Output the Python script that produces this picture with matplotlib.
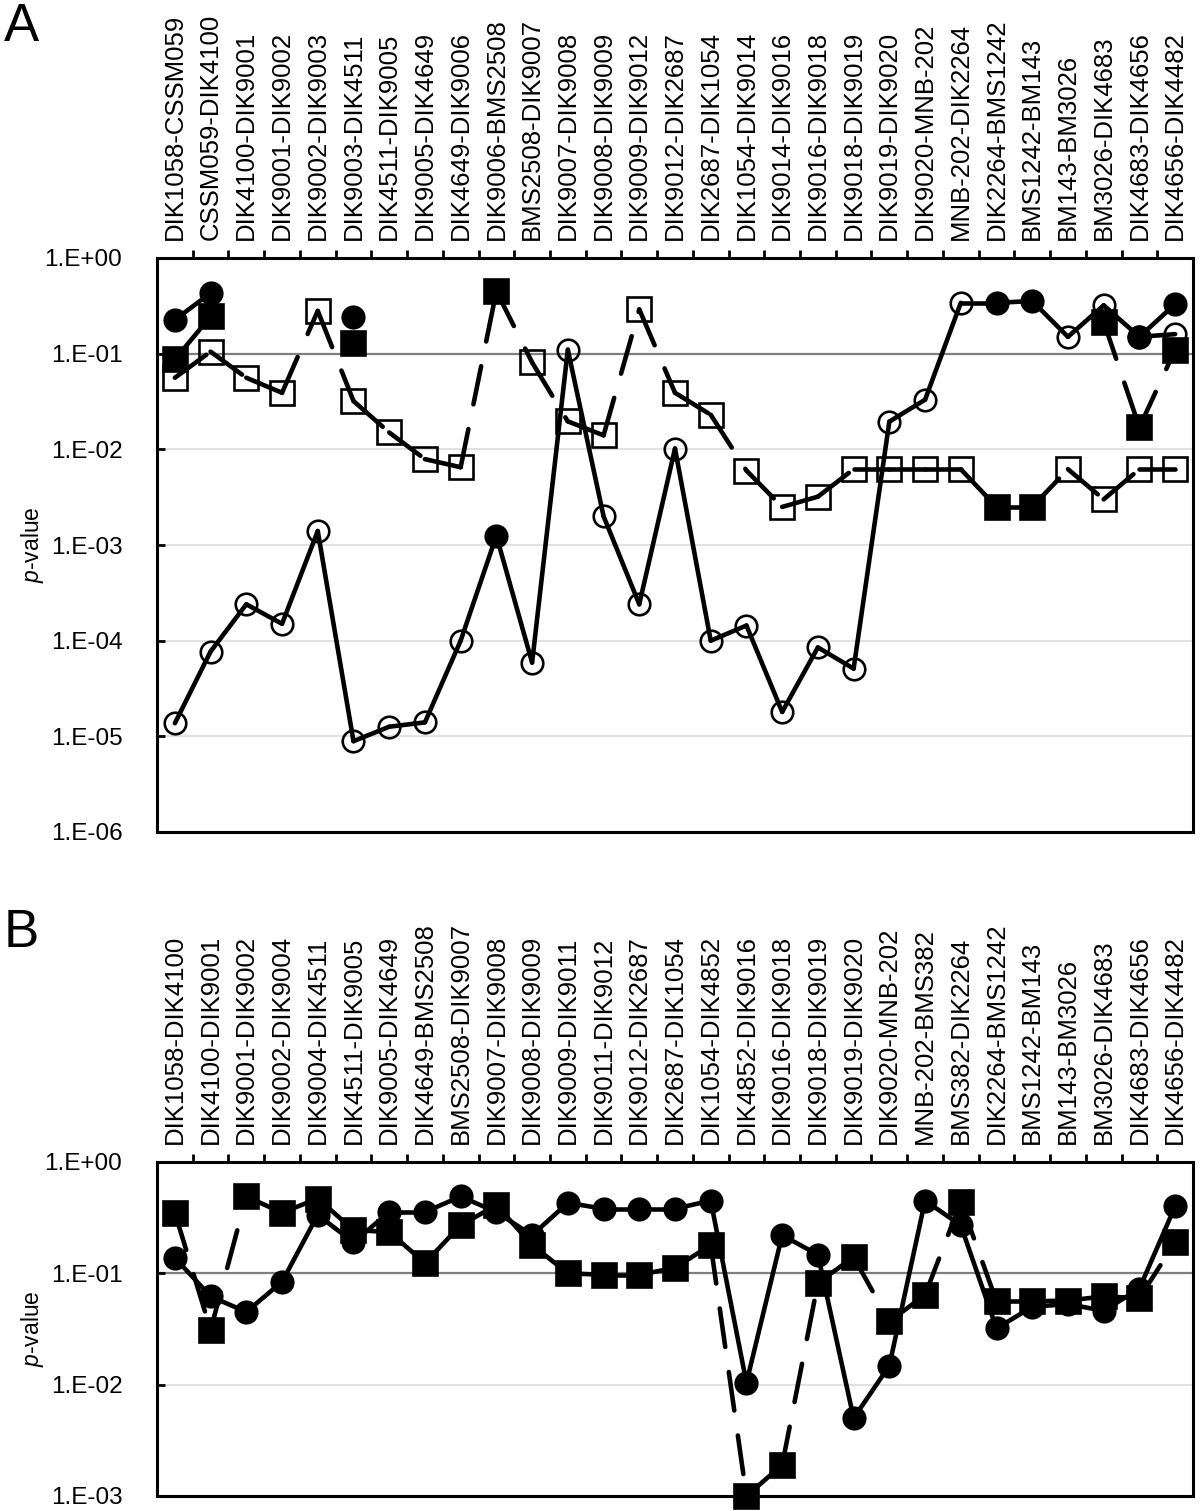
import numpy as np
import matplotlib
matplotlib.use('Agg')
import matplotlib.pyplot as plt
from matplotlib.ticker import FixedLocator, FuncFormatter, NullLocator

plt.rcParams['font.family'] = ['Liberation Sans', 'DejaVu Sans']
plt.rcParams['mathtext.fontset'] = 'custom'
plt.rcParams['mathtext.it'] = 'Liberation Sans:italic'
plt.rcParams['mathtext.rm'] = 'Liberation Sans'

nan = np.nan

# ---- panel A ----
labels_a = ['DIK1058-CSSM059', 'CSSM059-DIK4100', 'DIK4100-DIK9001', 'DIK9001-DIK9002',
            'DIK9002-DIK9003', 'DIK9003-DIK4511', 'DIK4511-DIK9005', 'DIK9005-DIK4649',
            'DIK4649-DIK9006', 'DIK9006-BMS2508', 'BMS2508-DIK9007', 'DIK9007-DIK9008',
            'DIK9008-DIK9009', 'DIK9009-DIK9012', 'DIK9012-DIK2687', 'DIK2687-DIK1054',
            'DIK1054-DIK9014', 'DIK9014-DIK9016', 'DIK9016-DIK9018', 'DIK9018-DIK9019',
            'DIK9019-DIK9020', 'DIK9020-MNB-202', 'MNB-202-DIK2264', 'DIK2264-BMS1242',
            'BMS1242-BM143', 'BM143-BM3026', 'BM3026-DIK4683', 'DIK4683-DIK4656',
            'DIK4656-DIK4482']

# circles, main series (solid line)
a_circ = [1.37e-5, 7.7e-5, 2.4e-4, 1.5e-4, 1.4e-3, 8.9e-6, 1.26e-5, 1.4e-5, 1.0e-4,
          1.25e-3, 5.9e-5, 0.11, 2.0e-3, 2.4e-4, 0.0102, 1.0e-4, 1.44e-4, 1.8e-5,
          8.5e-5, 5.1e-5, 0.0195, 0.033, 0.34, 0.34, 0.355, 0.15, 0.32, 0.15, 0.16]
a_circ_filled = [9, 23, 24]
# circles, second series (filled)
a_circ2 = [0.226, 0.43, nan, nan, nan, 0.24, nan, nan, nan, nan, nan, nan, nan, nan,
           nan, nan, nan, nan, nan, nan, nan, nan, nan, nan, nan, nan, nan, 0.15, 0.33]

# squares, main series (dashed line)
a_sq = [0.056, 0.105, 0.056, 0.039, 0.28, 0.032, 0.015, 0.0079, 0.0065, 0.45, 0.081,
        0.0196, 0.014, 0.29, 0.039, 0.023, 0.006, 0.0025, 0.0032, 0.0062, 0.0062,
        0.0062, 0.0062, 0.0025, 0.0025, 0.0062, 0.003, 0.0062, 0.0062]
a_sq_filled = [9, 23, 24]
# squares, second series (filled)
a_sq2 = [0.087, 0.245, nan, nan, nan, 0.13, nan, nan, nan, nan, nan, nan, nan, nan,
         nan, nan, nan, nan, nan, nan, nan, nan, nan, nan, nan, nan, 0.215, 0.017, 0.11]

# ---- panel B ----
labels_b = ['DIK1058-DIK4100', 'DIK4100-DIK9001', 'DIK9001-DIK9002', 'DIK9002-DIK9004',
            'DIK9004-DIK4511', 'DIK4511-DIK9005', 'DIK9005-DIK4649', 'DIK4649-BMS2508',
            'BMS2508-DIK9007', 'DIK9007-DIK9008', 'DIK9008-DIK9009', 'DIK9009-DIK9011',
            'DIK9011-DIK9012', 'DIK9012-DIK2687', 'DIK2687-DIK1054', 'DIK1054-DIK4852',
            'DIK4852-DIK9016', 'DIK9016-DIK9018', 'DIK9018-DIK9019', 'DIK9019-DIK9020',
            'DIK9020-MNB-202', 'MNB-202-BMS382', 'BMS382-DIK2264', 'DIK2264-BMS1242',
            'BMS1242-BM143', 'BM143-BM3026', 'BM3026-DIK4683', 'DIK4683-DIK4656',
            'DIK4656-DIK4482']

b_circ = [0.138, 0.062, 0.045, 0.084, 0.335, 0.19, 0.355, 0.355, 0.49, 0.355, 0.22,
          0.43, 0.38, 0.38, 0.38, 0.45, 0.0104, 0.22, 0.147, 0.005, 0.0148, 0.45, 0.27,
          0.032, 0.050, 0.053, 0.046, 0.073, 0.40]
b_sq = [0.35, 0.031, 0.49, 0.35, 0.47, 0.245, 0.235, 0.124, 0.27, 0.41, 0.18, 0.10,
        0.097, 0.097, 0.112, 0.18, 0.001, 0.0019, 0.082, 0.14, 0.037, 0.064, 0.44,
        0.056, 0.056, 0.057, 0.062, 0.06, 0.19]

LW = 3.3
DASH = (0, (8.5, 5.5))
MS_O = 15.5
MS_S = 17


def draw_series(ax, vals, marker, ms, filled, dashed):
    vals = np.array(vals, dtype=float)
    x = np.arange(len(vals))
    for i in range(len(vals) - 1):
        if np.isnan(vals[i]) or np.isnan(vals[i + 1]):
            continue
        ax.plot(x[i:i + 2], vals[i:i + 2], color='black', lw=LW,
                ls=DASH if dashed else '-', dash_capstyle='round',
                solid_capstyle='round', zorder=3)
    for i, v in enumerate(vals):
        if np.isnan(v):
            continue
        full = filled is True or (filled is not False and i in filled)
        ax.plot(x[i], v, marker=marker, ms=ms, mec='black', mew=1.9,
                mfc='black' if full else 'none', ls='none', zorder=4, clip_on=False)


def setup_axes(ax, labels, ymin):
    n = len(labels)
    ax.set_yscale('log')
    ax.set_xlim(-0.5, n - 0.5)
    ax.set_ylim(ymin, 1)
    decades = 10.0 ** np.arange(int(np.log10(ymin)), 1)
    ax.yaxis.set_major_locator(FixedLocator(decades))
    ax.yaxis.set_minor_locator(NullLocator())
    ax.yaxis.set_major_formatter(FuncFormatter(lambda v, p: '1.E%+03d' % round(np.log10(v))))
    for d in decades[1:-1]:
        if np.isclose(d, 0.1):
            ax.axhline(d, color='#7f7f7f', lw=1.6, zorder=1)
        else:
            ax.axhline(d, color='#dcdcdc', lw=1.2, zorder=1)
    ax.tick_params(axis='y', direction='in', length=6, width=2, labelsize=17.5, pad=25)
    ax.set_xticks(np.arange(0.5, n - 1, 1))
    ax.set_xticks(np.arange(n), labels, minor=True, rotation=90)
    ax.xaxis.set_ticks_position('top')
    ax.tick_params(axis='x', which='major', direction='out', length=6, width=2,
                   labeltop=False, labelbottom=False)
    ax.tick_params(axis='x', which='minor', length=0, pad=13, labelsize=18.5,
                   labeltop=True, labelbottom=False)
    for s in ax.spines.values():
        s.set_linewidth(2.2)


fig = plt.figure(figsize=(12, 15.11), dpi=100)
W, H = 1200, 1511
axA = fig.add_axes([157 / W, 1 - 832 / H, (1193 - 157) / W, (832 - 258) / H])
axB = fig.add_axes([157 / W, 1 - 1496 / H, (1193 - 157) / W, (1496 - 1162) / H])

setup_axes(axA, labels_a, 1e-6)
draw_series(axA, a_circ, 'o', MS_O, a_circ_filled, False)
draw_series(axA, a_sq, 's', MS_S, a_sq_filled, True)
draw_series(axA, a_circ2, 'o', MS_O, True, False)
draw_series(axA, a_sq2, 's', MS_S, True, True)

setup_axes(axB, labels_b, 1e-3)
draw_series(axB, b_circ, 'o', MS_O, True, False)
draw_series(axB, b_sq, 's', MS_S, True, True)

fig.text(33 / W, 1 - 545 / H, r'$p$-value', rotation=90, ha='center', va='center', fontsize=16.5)
fig.text(33 / W, 1 - 1329 / H, r'$p$-value', rotation=90, ha='center', va='center', fontsize=16.5)
fig.text(4 / W, 1 - 2 / H, 'A', ha='left', va='top', fontsize=38)
fig.text(4 / W, 1 - 908 / H, 'B', ha='left', va='top', fontsize=38)

fig.savefig('out.png', dpi=100)
